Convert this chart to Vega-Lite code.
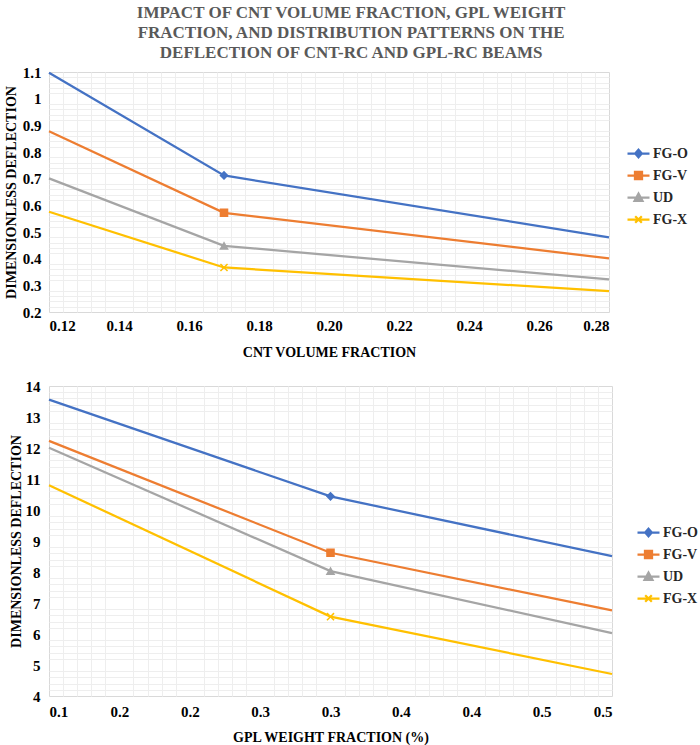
{
  "$schema": "https://vega.github.io/schema/vega-lite/v6.json",
  "description": "Deflection of CNT-RC and GPL-RC beams vs CNT volume fraction and GPL weight fraction",
  "padding": {"left": 3, "top": 3, "right": 2, "bottom": 0},
  "background": "white",
  "title": {
    "text": [
      "IMPACT OF CNT VOLUME FRACTION, GPL WEIGHT",
      "FRACTION, AND DISTRIBUTION PATTERNS ON THE",
      "DEFLECTION OF CNT-RC AND GPL-RC BEAMS"
    ],
    "font": "Liberation Serif",
    "fontSize": 17,
    "fontWeight": "bold",
    "color": "#595959",
    "lineHeight": 20,
    "anchor": "middle",
    "offset": 3
  },
  "datasets": {
    "cnt": [
      {"pattern": "FG-O", "vf": 0.12, "deflection": 1.097},
      {"pattern": "FG-O", "vf": 0.17, "deflection": 0.712},
      {"pattern": "FG-O", "vf": 0.28, "deflection": 0.48},
      {"pattern": "FG-V", "vf": 0.12, "deflection": 0.878},
      {"pattern": "FG-V", "vf": 0.17, "deflection": 0.572},
      {"pattern": "FG-V", "vf": 0.28, "deflection": 0.401},
      {"pattern": "UD", "vf": 0.12, "deflection": 0.701},
      {"pattern": "UD", "vf": 0.17, "deflection": 0.448},
      {"pattern": "UD", "vf": 0.28, "deflection": 0.322},
      {"pattern": "FG-X", "vf": 0.12, "deflection": 0.576},
      {"pattern": "FG-X", "vf": 0.17, "deflection": 0.367},
      {"pattern": "FG-X", "vf": 0.28, "deflection": 0.278}
    ],
    "gpl": [
      {"pattern": "FG-O", "wf": 0.1, "deflection": 13.56},
      {"pattern": "FG-O", "wf": 0.3, "deflection": 10.44},
      {"pattern": "FG-O", "wf": 0.5, "deflection": 8.51},
      {"pattern": "FG-V", "wf": 0.1, "deflection": 12.23},
      {"pattern": "FG-V", "wf": 0.3, "deflection": 8.62},
      {"pattern": "FG-V", "wf": 0.5, "deflection": 6.76},
      {"pattern": "UD", "wf": 0.1, "deflection": 12.01},
      {"pattern": "UD", "wf": 0.3, "deflection": 8.03},
      {"pattern": "UD", "wf": 0.5, "deflection": 6.03},
      {"pattern": "FG-X", "wf": 0.1, "deflection": 10.8},
      {"pattern": "FG-X", "wf": 0.3, "deflection": 6.56},
      {"pattern": "FG-X", "wf": 0.5, "deflection": 4.71}
    ]
  },
  "columns": 1,
  "spacing": 18,
  "concat": [
    {
      "width": 560,
      "height": 240,
      "data": {"name": "cnt"},
      "layer": [
        {
          "mark": {"type": "line", "strokeWidth": 2.25},
          "encoding": {
            "x": {
              "field": "vf", "type": "quantitative",
              "scale": {"domain": [0.12, 0.28], "nice": false, "zero": false},
              "axis": {
                "orient": "bottom", "labels": false, "title": null, "gridColor": "#EEEEEE",
                "values": [0.124, 0.128, 0.132, 0.136, 0.144, 0.148, 0.152, 0.156, 0.164, 0.168, 0.172, 0.176, 0.184, 0.188, 0.192, 0.196, 0.204, 0.208, 0.212, 0.216, 0.224, 0.228, 0.232, 0.236, 0.244, 0.248, 0.252, 0.256, 0.264, 0.268, 0.272, 0.276]
              }
            },
            "y": {
              "field": "deflection", "type": "quantitative",
              "scale": {"domain": [0.2, 1.1], "nice": false, "zero": false},
              "axis": {
                "orient": "left", "labels": false, "title": null, "gridColor": "#EEEEEE",
                "values": [0.22, 0.24, 0.26, 0.28, 0.32, 0.34, 0.36, 0.38, 0.42, 0.44, 0.46, 0.48, 0.52, 0.54, 0.56, 0.58, 0.62, 0.64, 0.66, 0.68, 0.72, 0.74, 0.76, 0.78, 0.82, 0.84, 0.86, 0.88, 0.92, 0.94, 0.96, 0.98, 1.02, 1.04, 1.06, 1.08]
              }
            },
            "stroke": {
              "field": "pattern", "type": "nominal",
              "scale": {"domain": ["FG-O", "FG-V", "UD", "FG-X"], "range": ["#4472C4", "#ED7D31", "#A5A5A5", "#FFC000"]},
              "legend": null
            }
          }
        },
        {
          "transform": [{"filter": "datum.vf == 0.17"}],
          "mark": {"type": "point", "filled": true, "size": 50, "strokeWidth": 1.5, "opacity": 1},
          "encoding": {
            "x": {
              "field": "vf", "type": "quantitative",
              "axis": {
                "orient": "bottom", "title": "CNT VOLUME FRACTION", "format": ".2f",
                "values": [0.12, 0.14, 0.16, 0.18, 0.2, 0.22, 0.24, 0.26, 0.28],
                "labelPadding": 6, "titlePadding": 12
              }
            },
            "y": {
              "field": "deflection", "type": "quantitative",
              "axis": {
                "orient": "left", "title": "DIMENSIONLESS DEFLECTION", "format": ".1~f",
                "values": [0.2, 0.3, 0.4, 0.5, 0.6, 0.7, 0.8, 0.9, 1, 1.1],
                "labelPadding": 8, "titlePadding": 4
              }
            },
            "fill": {
              "field": "pattern", "type": "nominal",
              "scale": {"domain": ["FG-O", "FG-V", "UD", "FG-X"], "range": ["#4472C4", "#ED7D31", "#A5A5A5", "#FFC000"]},
              "legend": null
            },
            "stroke": {
              "field": "pattern", "type": "nominal",
              "scale": {"domain": ["FG-O", "FG-V", "UD", "FG-X"], "range": ["#4472C4", "#ED7D31", "#A5A5A5", "#FFC000"]},
              "legend": null
            },
            "shape": {
              "field": "pattern", "type": "nominal",
              "scale": {"domain": ["FG-O", "FG-V", "UD", "FG-X"], "range": ["diamond", "square", "triangle-up", "M-1,-1L1,1M-1,1L1,-1"]},
              "legend": null
            }
          }
        },
        {
          "transform": [{"filter": "false"}],
          "mark": {"type": "point", "filled": true, "size": 484, "strokeWidth": 2.25, "opacity": 1},
          "encoding": {
            "x": {"field": "vf", "type": "quantitative", "axis": null},
            "y": {"field": "deflection", "type": "quantitative", "axis": null},
            "fill": {
              "field": "pattern", "type": "nominal",
              "scale": {"domain": ["FG-O", "FG-V", "UD", "FG-X"], "range": ["#4472C4", "#ED7D31", "#A5A5A5", "#FFC000"]},
              "legend": {"title": null, "orient": "none", "legendX": 577, "legendY": 69, "symbolSize": 484, "symbolStrokeWidth": 2.25, "rowPadding": 1, "labelOffset": 2, "padding": 0}
            },
            "stroke": {
              "field": "pattern", "type": "nominal",
              "scale": {"domain": ["FG-O", "FG-V", "UD", "FG-X"], "range": ["#4472C4", "#ED7D31", "#A5A5A5", "#FFC000"]},
              "legend": {"title": null, "orient": "none", "legendX": 577, "legendY": 69, "symbolSize": 484, "symbolStrokeWidth": 2.25, "rowPadding": 1, "labelOffset": 2, "padding": 0}
            },
            "shape": {
              "field": "pattern", "type": "nominal",
              "scale": {
                "domain": ["FG-O", "FG-V", "UD", "FG-X"],
                "range": [
                  "M-1,0H1M0,-0.34L0.3,0L0,0.34L-0.3,0Z",
                  "M-1,0H1M-0.32,-0.32H0.32V0.32H-0.32Z",
                  "M-1,0H1M0,-0.36L0.36,0.3H-0.36Z",
                  "M-1,0H1M-0.3,-0.3L0.3,0.3M-0.3,0.3L0.3,-0.3"
                ]
              },
              "legend": {"title": null, "orient": "none", "legendX": 577, "legendY": 69, "symbolSize": 484, "symbolStrokeWidth": 2.25, "rowPadding": 1, "labelOffset": 2, "padding": 0}
            }
          }
        }
      ],
      "resolve": {
        "scale": {"fill": "independent", "stroke": "independent", "shape": "independent"},
        "axis": {"x": "independent", "y": "independent"}
      }
    },
    {
      "width": 563,
      "height": 310,
      "data": {"name": "gpl"},
      "layer": [
        {
          "mark": {"type": "line", "strokeWidth": 2.25},
          "encoding": {
            "x": {
              "field": "wf", "type": "quantitative",
              "scale": {"domain": [0.1, 0.5], "nice": false, "zero": false},
              "axis": {
                "orient": "bottom", "labels": false, "title": null, "gridColor": "#EEEEEE",
                "values": [0.11, 0.12, 0.13, 0.14, 0.16, 0.17, 0.18, 0.19, 0.21, 0.22, 0.23, 0.24, 0.26, 0.27, 0.28, 0.29, 0.31, 0.32, 0.33, 0.34, 0.36, 0.37, 0.38, 0.39, 0.41, 0.42, 0.43, 0.44, 0.46, 0.47, 0.48, 0.49]
              }
            },
            "y": {
              "field": "deflection", "type": "quantitative",
              "scale": {"domain": [4, 14], "nice": false, "zero": false},
              "axis": {
                "orient": "left", "labels": false, "title": null, "gridColor": "#EEEEEE",
                "values": [4.2, 4.4, 4.6, 4.8, 5.2, 5.4, 5.6, 5.8, 6.2, 6.4, 6.6, 6.8, 7.2, 7.4, 7.6, 7.8, 8.2, 8.4, 8.6, 8.8, 9.2, 9.4, 9.6, 9.8, 10.2, 10.4, 10.6, 10.8, 11.2, 11.4, 11.6, 11.8, 12.2, 12.4, 12.6, 12.8, 13.2, 13.4, 13.6, 13.8]
              }
            },
            "stroke": {
              "field": "pattern", "type": "nominal",
              "scale": {"domain": ["FG-O", "FG-V", "UD", "FG-X"], "range": ["#4472C4", "#ED7D31", "#A5A5A5", "#FFC000"]},
              "legend": null
            }
          }
        },
        {
          "transform": [{"filter": "datum.wf == 0.3"}],
          "mark": {"type": "point", "filled": true, "size": 50, "strokeWidth": 1.5, "opacity": 1},
          "encoding": {
            "x": {
              "field": "wf", "type": "quantitative",
              "axis": {
                "orient": "bottom", "title": "GPL WEIGHT FRACTION (%)",
                "values": [0.1, 0.15, 0.2, 0.25, 0.3, 0.35, 0.4, 0.45, 0.5],
                "labelExpr": "format(datum.value + 0.0001, '.1f')",
                "labelPadding": 8, "titlePadding": 11
              }
            },
            "y": {
              "field": "deflection", "type": "quantitative",
              "axis": {
                "orient": "left", "title": "DIMENSIONLESS DEFLECTION", "format": "d",
                "values": [4, 5, 6, 7, 8, 9, 10, 11, 12, 13, 14],
                "labelPadding": 9, "titlePadding": 2
              }
            },
            "fill": {
              "field": "pattern", "type": "nominal",
              "scale": {"domain": ["FG-O", "FG-V", "UD", "FG-X"], "range": ["#4472C4", "#ED7D31", "#A5A5A5", "#FFC000"]},
              "legend": null
            },
            "stroke": {
              "field": "pattern", "type": "nominal",
              "scale": {"domain": ["FG-O", "FG-V", "UD", "FG-X"], "range": ["#4472C4", "#ED7D31", "#A5A5A5", "#FFC000"]},
              "legend": null
            },
            "shape": {
              "field": "pattern", "type": "nominal",
              "scale": {"domain": ["FG-O", "FG-V", "UD", "FG-X"], "range": ["diamond", "square", "triangle-up", "M-1,-1L1,1M-1,1L1,-1"]},
              "legend": null
            }
          }
        },
        {
          "transform": [{"filter": "false"}],
          "mark": {"type": "point", "filled": true, "size": 484, "strokeWidth": 2.25, "opacity": 1},
          "encoding": {
            "x": {"field": "wf", "type": "quantitative", "axis": null},
            "y": {"field": "deflection", "type": "quantitative", "axis": null},
            "fill": {
              "field": "pattern", "type": "nominal",
              "scale": {"domain": ["FG-O", "FG-V", "UD", "FG-X"], "range": ["#4472C4", "#ED7D31", "#A5A5A5", "#FFC000"]},
              "legend": {"title": null, "orient": "none", "legendX": 587, "legendY": 134, "symbolSize": 484, "symbolStrokeWidth": 2.25, "rowPadding": 1, "labelOffset": 2, "padding": 0}
            },
            "stroke": {
              "field": "pattern", "type": "nominal",
              "scale": {"domain": ["FG-O", "FG-V", "UD", "FG-X"], "range": ["#4472C4", "#ED7D31", "#A5A5A5", "#FFC000"]},
              "legend": {"title": null, "orient": "none", "legendX": 587, "legendY": 134, "symbolSize": 484, "symbolStrokeWidth": 2.25, "rowPadding": 1, "labelOffset": 2, "padding": 0}
            },
            "shape": {
              "field": "pattern", "type": "nominal",
              "scale": {
                "domain": ["FG-O", "FG-V", "UD", "FG-X"],
                "range": [
                  "M-1,0H1M0,-0.34L0.3,0L0,0.34L-0.3,0Z",
                  "M-1,0H1M-0.32,-0.32H0.32V0.32H-0.32Z",
                  "M-1,0H1M0,-0.36L0.36,0.3H-0.36Z",
                  "M-1,0H1M-0.3,-0.3L0.3,0.3M-0.3,0.3L0.3,-0.3"
                ]
              },
              "legend": {"title": null, "orient": "none", "legendX": 587, "legendY": 134, "symbolSize": 484, "symbolStrokeWidth": 2.25, "rowPadding": 1, "labelOffset": 2, "padding": 0}
            }
          }
        }
      ],
      "resolve": {
        "scale": {"fill": "independent", "stroke": "independent", "shape": "independent"},
        "axis": {"x": "independent", "y": "independent"}
      }
    }
  ],
  "resolve": {
    "scale": {"fill": "independent", "stroke": "independent", "shape": "independent"}
  },
  "config": {
    "view": {"stroke": "#D9D9D9"},
    "axis": {
      "grid": true,
      "gridColor": "#D9D9D9",
      "gridWidth": 1,
      "domain": false,
      "ticks": false,
      "labelFont": "Liberation Serif",
      "labelFontSize": 15,
      "labelFontWeight": "bold",
      "labelColor": "#000000",
      "titleFont": "Liberation Serif",
      "titleFontSize": 14,
      "titleFontWeight": "bold",
      "titleColor": "#000000"
    },
    "legend": {
      "labelFont": "Liberation Serif",
      "labelFontSize": 14,
      "labelFontWeight": "bold",
      "labelColor": "#262626"
    }
  }
}
